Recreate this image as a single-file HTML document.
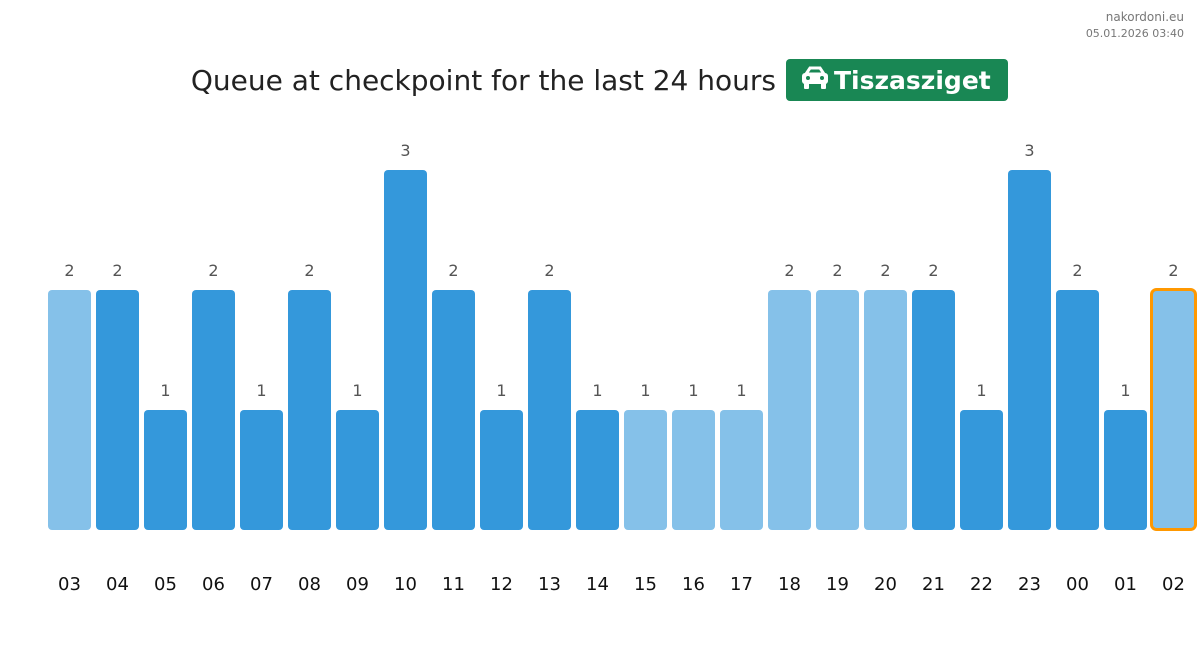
<!DOCTYPE html>
<html><head><meta charset="utf-8"><style>
body{margin:0;width:1200px;height:651px;background:#fff;overflow:hidden;font-family:"DejaVu Sans","Liberation Sans",sans-serif}
</style></head><body>
<svg width="1200" height="651" xmlns="http://www.w3.org/2000/svg" font-family="DejaVu Sans, Liberation Sans, sans-serif">
<text x="1184" y="21" text-anchor="end" font-size="12" fill="#777">nakordoni.eu</text>
<text x="1184" y="37" text-anchor="end" font-size="11" fill="#777">05.01.2026 03:40</text>
<text x="776" y="90" text-anchor="end" font-size="28" fill="#222">Queue at checkpoint for the last 24 hours</text>
<rect x="786" y="59" width="222" height="42" rx="4" fill="#198754"/>
<g fill="#fff">
<path d="M806 74 L810 68 L820 68 L824 74 Z" fill="none" stroke="#fff" stroke-width="3"/>
<rect x="802" y="73" width="26" height="11" rx="3"/>
<rect x="804" y="83" width="5" height="6" rx="1"/>
<rect x="821" y="83" width="5" height="6" rx="1"/>
<circle cx="808" cy="78" r="2" fill="#198754"/>
<circle cx="822" cy="78" r="2" fill="#198754"/>
</g>
<text x="834" y="89" font-size="25" font-weight="bold" fill="#fff">Tiszasziget</text>
<g id="bars"></g>
</svg>
<script>
(function(){
var v=[2,2,1,2,1,2,1,3,2,1,2,1,1,1,1,2,2,2,2,1,3,2,1,2];
var h=["03","04","05","06","07","08","09","10","11","12","13","14","15","16","17","18","19","20","21","22","23","00","01","02"];
var light=[0,12,13,14,15,16,17,23];
var g=document.getElementById("bars"),s="";
for(var i=0;i<24;i++){var x=48+48*i,ty=530-120*v[i],c=light.indexOf(i)>=0?"#85C1E9":"#3498DB";
if(i==23){s+='<rect x="1151.5" y="'+(ty-0.5)+'" width="44" height="'+(120*v[i])+'" rx="5" fill="'+c+'" stroke="#FF9800" stroke-width="3"/>';x=1152;}
else s+='<rect x="'+x+'" y="'+ty+'" width="43" height="'+(120*v[i])+'" rx="4" fill="'+c+'"/>';
s+='<text x="'+(x+21.5)+'" y="'+(ty-14)+'" text-anchor="middle" font-size="16" fill="#555">'+v[i]+'</text>';
s+='<text x="'+(x+21.5)+'" y="590" text-anchor="middle" font-size="18" fill="#111">'+h[i]+'</text>';}
g.innerHTML=s;
})();
</script>
</body></html>
